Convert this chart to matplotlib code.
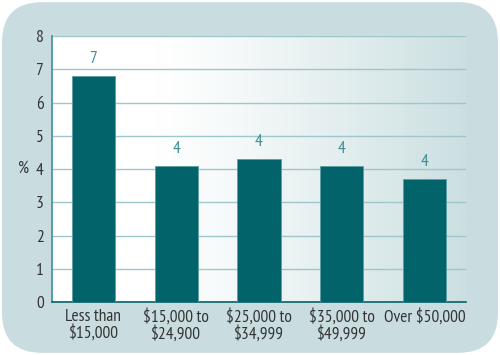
import numpy as np
import matplotlib.pyplot as plt
from matplotlib.patches import FancyBboxPatch
from matplotlib import font_manager

categories = ["Less than\n$15,000", "$15,000 to\n$24,900", "$25,000 to\n$34,999",
              "$35,000 to\n$49,999", "Over $50,000"]
values = [6.8, 4.1, 4.3, 4.1, 3.7]
labels = ["7", "4", "4", "4", "4"]
yticks = [0, 1, 2, 3, 4, 5, 6, 7, 8]

# a narrow face close to the original condensed type
names = {f.name for f in font_manager.fontManager.ttflist}
fam = "DejaVu Sans"
for cand in ["PT Sans Narrow", "Fira Sans Condensed", "Roboto Condensed",
             "Open Sans Condensed", "Asap Condensed", "Encode Sans Condensed",
             "Liberation Sans Narrow", "Archivo Narrow"]:
    if cand in names:
        fam = cand
        break
plt.rcParams['font.family'] = [fam, 'DejaVu Sans']
fs = 12.5 if fam != "DejaVu Sans" else 9.5

bg = "#c9dde0"
bar_c = "#02636a"
grid_c = "#9fc6ca"
txt_c = "#333333"
lab_c = "#3f8f97"

fig = plt.figure(figsize=(5, 3.55), dpi=100)
fig.patch.set_facecolor("white")
card = FancyBboxPatch((0.004, 0.006), 0.992, 0.988,
                      boxstyle="round,pad=0,rounding_size=0.08",
                      transform=fig.transFigure, facecolor=bg, edgecolor="none",
                      mutation_aspect=500 / 355, zorder=-10)
fig.patches.append(card)

ax = fig.add_axes([0.104, 0.148, 0.828, 0.751])
ax.set_facecolor("none")

# gradient backdrop of the plot area
grad = np.linspace(0, 1, 256)
grad = np.clip((grad - 0.25) / 0.75, 0, 1) ** 1.2
c0 = np.array([1.0, 1.0, 1.0])
c1 = np.array([0xcb, 0xdf, 0xe1]) / 255
img = c0[None, :] * (1 - grad[:, None]) + c1[None, :] * grad[:, None]
ax.imshow(img[None, :, :], extent=[-0.5, 4.5, 0, 8], aspect="auto", zorder=0)

x = np.arange(len(categories))
ax.bar(x, values, width=0.52, color=bar_c, edgecolor="#5a9ea3", linewidth=0.6, zorder=3)
for xi, v, lb in zip(x, values, labels):
    ax.text(xi, v + 0.27, lb, ha="center", va="bottom", color=lab_c, fontsize=fs)

ax.set_xlim(-0.5, 4.5)
ax.set_ylim(0, 8)
ax.set_yticks(yticks)
ax.set_yticklabels([str(t) for t in yticks], fontsize=fs, color=txt_c)
ax.set_xticks(x)
ax.set_xticklabels(categories, fontsize=fs, color=txt_c, linespacing=1.0)
ax.tick_params(axis="both", length=0)
ax.tick_params(axis="y", pad=6)
ax.tick_params(axis="x", pad=5)
ax.yaxis.grid(True, color=grid_c, linewidth=1.0, zorder=1)
ax.set_axisbelow(True)
for s in ["top", "right"]:
    ax.spines[s].set_visible(False)
ax.spines["left"].set_color("#3f8f97")
ax.spines["left"].set_linewidth(1.2)
ax.spines["bottom"].set_color(bar_c)
ax.spines["bottom"].set_linewidth(1.2)
ax.set_ylabel("%", rotation=0, fontsize=fs, color=txt_c, va="center")
ax.yaxis.set_label_coords(-0.068, 0.5)

fig.savefig("out.png", dpi=100, facecolor="white")
